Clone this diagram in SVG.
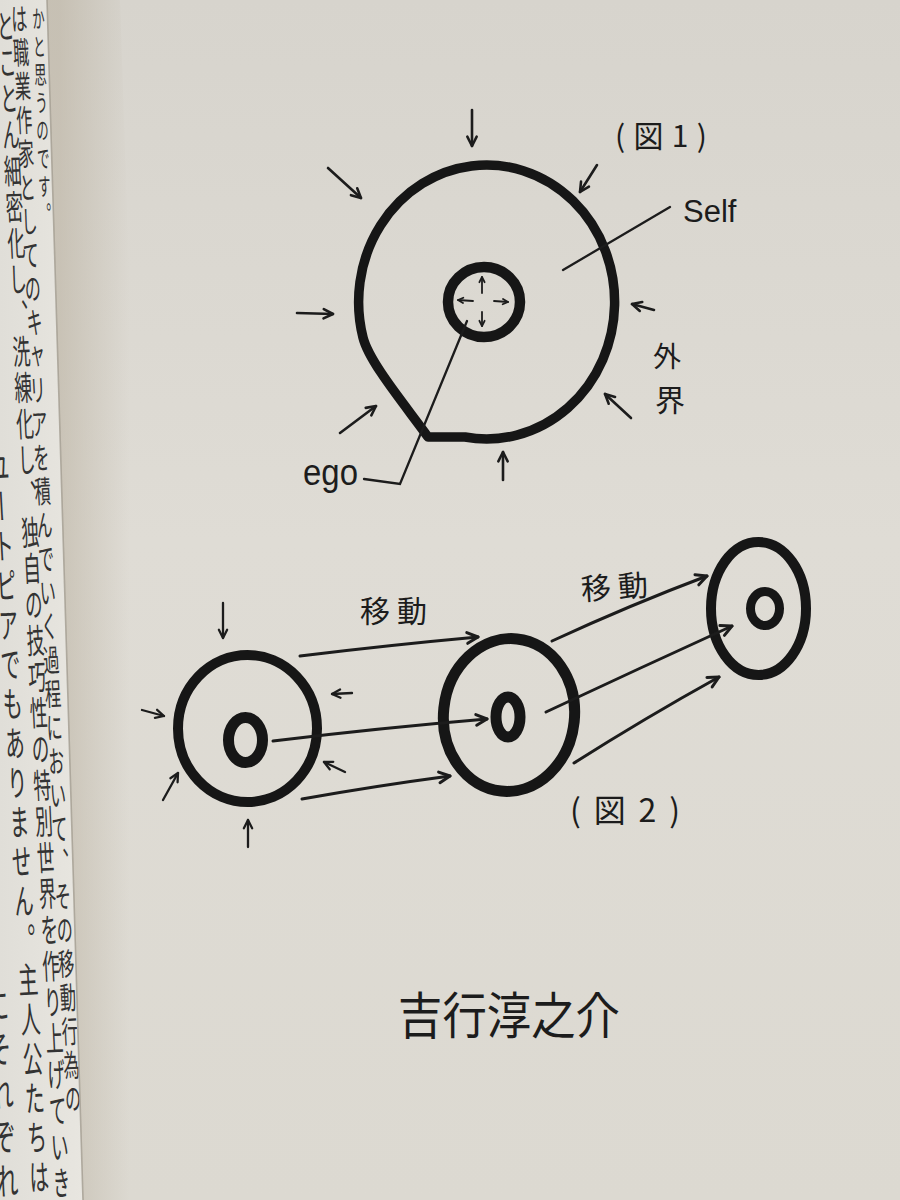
<svg xmlns="http://www.w3.org/2000/svg" width="900" height="1200" viewBox="0 0 900 1200">
<defs>
<style>
.ring{fill:none;stroke:#161616;stroke-linejoin:round}
.ln{fill:none;stroke:#1c1c1c;stroke-width:2.3;stroke-linecap:round}
.arr{fill:none;stroke:#1c1c1c;stroke-width:2.6;stroke-linecap:round;marker-end:url(#ah)}
.arr2{fill:none;stroke:#1c1c1c;stroke-width:2.3;stroke-linecap:round;marker-end:url(#ah)}
.con{fill:none;stroke:#1c1c1c;stroke-width:3;stroke-linecap:round;marker-end:url(#ah)}
.sarr{fill:none;stroke:#1c1c1c;stroke-width:1.8;stroke-linecap:round;marker-end:url(#ahs)}
.jp{font-family:"Noto Sans CJK JP","Noto Sans CJK SC",sans-serif;fill:#1c1c1c}
.lat{font-family:"Liberation Sans","DejaVu Sans",sans-serif;fill:#1c1c1c}
.col{font-family:"Noto Sans CJK JP","Noto Sans CJK SC",sans-serif;writing-mode:vertical-rl;fill:#333}
</style>
<marker id="ah" viewBox="0 0 10 10" refX="9" refY="5" markerWidth="4.5" markerHeight="4.5" orient="auto" markerUnits="strokeWidth" overflow="visible">
<path d="M1,1 L9,5 L1,9" fill="none" stroke="#1c1c1c" stroke-width="2.2" stroke-linecap="round" stroke-linejoin="round"/>
</marker>
<marker id="ahs" viewBox="0 0 10 10" refX="9" refY="5" markerWidth="3.6" markerHeight="3.6" orient="auto" markerUnits="strokeWidth" overflow="visible">
<path d="M1,1 L9,5 L1,9" fill="none" stroke="#1c1c1c" stroke-width="2.8" stroke-linecap="round" stroke-linejoin="round"/>
</marker>
<linearGradient id="rp" x1="0" y1="0" x2="0" y2="1">
<stop offset="0" stop-color="#d7d4cd"/>
<stop offset="0.45" stop-color="#dfdcd5"/>
<stop offset="1" stop-color="#dcd9d1"/>
</linearGradient>
<linearGradient id="lp" x1="0" y1="0" x2="1" y2="0">
<stop offset="0" stop-color="#e0ded8"/>
<stop offset="1" stop-color="#e8e6e0"/>
</linearGradient>
<linearGradient id="gut" gradientUnits="userSpaceOnUse" x1="60" y1="0" x2="130" y2="0">
<stop offset="0" stop-color="#b9b09f" stop-opacity="0.55"/>
<stop offset="1" stop-color="#b9b09f" stop-opacity="0"/>
</linearGradient>
<clipPath id="lclip"><polygon points="0,0 47,0 83,1200 0,1200"/></clipPath>
</defs>

<!-- page background -->
<rect x="0" y="0" width="900" height="1200" fill="url(#rp)"/>
<polygon points="47,0 120,0 160,1200 83,1200" fill="url(#gut)"/>

<!-- left page with printed text -->
<g id="left-page">
<polygon points="0,0 47,0 83,1200 0,1200" fill="url(#lp)"/>
<g clip-path="url(#lclip)">
<text class="col" x="0" y="0" font-size="25" letter-spacing="3" fill="#707070" transform="translate(38,6) rotate(-2) scale(0.5,1)">かと思うのです。</text>
<text class="col" x="0" y="0" font-size="31" letter-spacing="2.8" fill="#3d3d3d" transform="translate(18.5,3) rotate(-2.85) scale(0.52,1)">は職業作家としてのキャリアを積んでいく過程において、その移動行為の</text>
<text class="col" x="0" y="0" font-size="34" letter-spacing="2.2" fill="#2e2e2e" transform="translate(5,9) rotate(-2.75) scale(0.52,1)">とことん細密化し、洗練化し、独自の技巧性の特別世界を作り上げていきま</text>
<text class="col" x="0" y="0" font-size="36" letter-spacing="3.5" fill="#2e2e2e" transform="translate(-1.5,449) rotate(-3.2) scale(0.55,1)">ユートピアでもありません。主人公たちは</text>
<text class="col" x="0" y="0" font-size="38" letter-spacing="6" fill="#3a3a3a" transform="translate(-3,986) rotate(-3) scale(0.58,1)">にそれぞれ</text>
</g>
<line x1="47" y1="0" x2="83" y2="1200" stroke="#a39d91" stroke-width="1.6" opacity="0.8"/>
</g>

<!-- Figure 1 -->
<g id="fig1-self">
<path class="ring" stroke-width="9.5" d="M428,437 C405,405 369,362 363,337.5 A128,137 0 1 1 465,437 Z"/>
</g>
<g id="fig1-ego">
<ellipse class="ring" cx="484" cy="302" rx="36" ry="35" stroke-width="10.5"/>
<path class="sarr" d="M482,293 L482,277"/>
<path class="sarr" d="M473,301 L458,300"/>
<path class="sarr" d="M494,301 L508,302"/>
<path class="sarr" d="M482,312 L482,326"/>
</g>
<g id="fig1-outer-arrows">
<path class="arr" d="M472,110 L472,146"/>
<path class="arr" d="M328,168 L361,198"/>
<path class="arr" d="M597,165 L580,192"/>
<path class="arr" d="M297,313 L333,314"/>
<path class="arr" d="M654,310 L632,304"/>
<path class="arr" d="M340,433 L376,406"/>
<path class="arr" d="M631,418 L605,394"/>
<path class="arr" d="M503,480 L503,452"/>
</g>
<g id="fig1-labels">
<text class="jp" x="615" y="147" font-size="30" textLength="92" lengthAdjust="spacing">(図1)</text>
<text class="lat" x="683" y="222" font-size="31">Self</text>
<path class="ln" d="M670,207 L563,270"/>
<text class="lat" x="303" y="485" font-size="36" textLength="55" lengthAdjust="spacingAndGlyphs">ego</text>
<path class="ln" d="M364,479 L400,484 L467,321"/>
<text class="jp" x="667" y="367" font-size="28" text-anchor="middle">外</text>
<text class="jp" x="670" y="411" font-size="30" text-anchor="middle">界</text>
</g>

<!-- Figure 2 -->
<g id="fig2-circle-a">
<ellipse class="ring" cx="247.5" cy="728.5" rx="69.5" ry="73.5" stroke-width="10"/>
<ellipse class="ring" cx="245.5" cy="740" rx="17" ry="22.5" stroke-width="11"/>
<path class="arr2" d="M223,603 L223,638"/>
<path class="arr2" d="M142,710 L164,716"/>
<path class="arr2" d="M163,800 L178,773"/>
<path class="arr2" d="M248,847 L248,820"/>
<path class="arr2" d="M352,693 L332,694"/>
<path class="arr2" d="M345,772 L324,762"/>
</g>
<g id="fig2-circle-b">
<ellipse class="ring" cx="509" cy="715" rx="65.5" ry="76.5" stroke-width="11" transform="rotate(6 509 715)"/>
<ellipse class="ring" cx="508" cy="717" rx="12" ry="20" stroke-width="11"/>
</g>
<g id="fig2-circle-c">
<ellipse class="ring" cx="758.5" cy="608.5" rx="47.5" ry="66.5" stroke-width="10"/>
<ellipse class="ring" cx="765" cy="608.5" rx="14.5" ry="17" stroke-width="9"/>
</g>
<g id="connectors">
<path class="con" d="M300,656 Q390,645 478,637"/>
<path class="con" d="M273,741 Q380,728 487,719"/>
<path class="con" d="M302,799 Q375,786 450,776"/>
<path class="con" d="M552,641 Q630,605 707,576"/>
<path class="con" d="M546,712 Q640,668 732,626"/>
<path class="con" d="M574,763 Q645,718 719,677"/>
</g>
<g id="fig2-labels">
<text class="jp" x="360" y="622" font-size="30" letter-spacing="7">移動</text>
<text class="jp" x="581" y="598" font-size="30" letter-spacing="7" transform="rotate(-4 614 588)">移動</text>
<text class="jp" x="570" y="822" font-size="32" textLength="110" lengthAdjust="spacing">(図2)</text>
</g>

<!-- signature -->
<g id="signature">
<text class="jp" x="398" y="1034" font-size="50" textLength="222" lengthAdjust="spacingAndGlyphs">吉行淳之介</text>
</g>
</svg>
